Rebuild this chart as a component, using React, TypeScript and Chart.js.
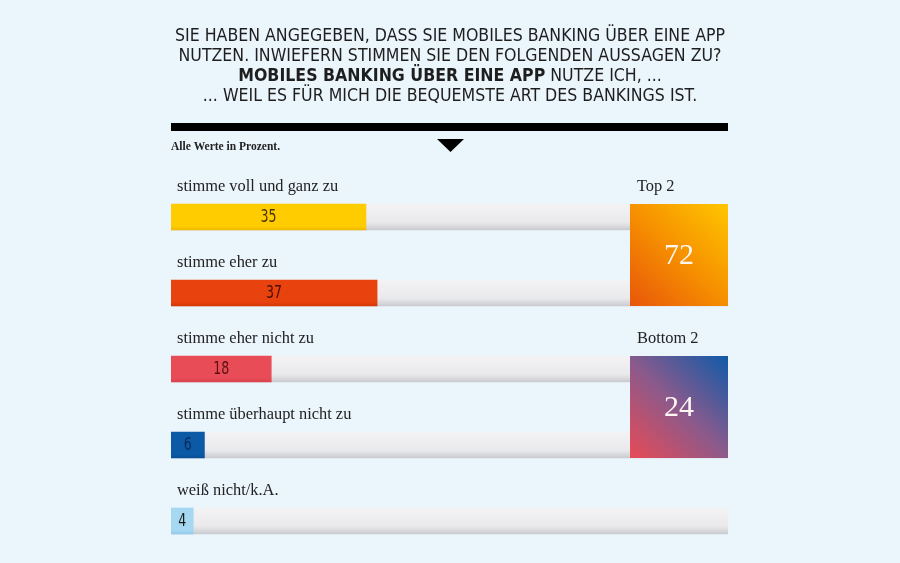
import React, { useEffect, useRef } from "react";
import { Chart, registerables } from "chart.js";
Chart.register(...registerables);

const categories = [
  "stimme voll und ganz zu",
  "stimme eher zu",
  "stimme eher nicht zu",
  "stimme überhaupt nicht zu",
  "weiß nicht/k.A.",
];
const values = [35, 37, 18, 6, 4];
const trackValues = [100, 100, 100, 100, 100];
const barColors = ["#ffcc00", "#e8420e", "#e84c56", "#0c5aa6", "#a6d8f2"];
const barColorsDark = ["#efb800", "#d43806", "#d8424c", "#0a4f94", "#94cceb"];
const valueTextColors = ["#4a3400", "#4a0e00", "#5a1010", "#0a2a55", "#1a1a1a"];
const groupLabels = ["Top 2", "Bottom 2"];
const groupMembers = [
  [0, 1],
  [2, 3],
];
const titleLines = [
  "SIE HABEN ANGEGEBEN, DASS SIE MOBILES BANKING ÜBER EINE APP",
  "NUTZEN. INWIEFERN STIMMEN SIE DEN FOLGENDEN AUSSAGEN ZU?",
  "",
  "... WEIL ES FÜR MICH DIE BEQUEMSTE ART DES BANKINGS IST.",
];
const titleBoldPart = "MOBILES BANKING ÜBER EINE APP";
const titleRegularPart = " NUTZE ICH, ...";
const noteText = "Alle Werte in Prozent.";

const TITLE_FONT = '"Liberation Sans Narrow", "DejaVu Sans Condensed", "Roboto", sans-serif';
const SERIF = '"Liberation Serif", "DejaVu Serif", serif';
const NUM_FONT = '"Liberation Sans Narrow", "DejaVu Sans Condensed", sans-serif';

const overlayPlugin = {
  id: "overlay",
  afterDatasetsDraw(chart: any) {
    const ctx = chart.ctx as CanvasRenderingContext2D;
    const area = chart.chartArea;
    const meta = chart.getDatasetMeta(0);
    const cx = 450;

    // Title
    ctx.save();
    ctx.fillStyle = "#1e1e1e";
    ctx.textBaseline = "middle";
    ctx.font = `17px ${TITLE_FONT}`;
    const targetW = 550;
    const w1 = ctx.measureText(titleLines[0]).width;
    const sx = targetW / w1;
    const lineYs = [36.5, 56.7, 77, 97];
    titleLines.forEach((t, i) => {
      if (i === 2) {
        ctx.font = `bold 17px ${TITLE_FONT}`;
        const wb = ctx.measureText(titleBoldPart).width;
        ctx.font = `17px ${TITLE_FONT}`;
        const wr = ctx.measureText(titleRegularPart).width;
        const total = (wb + wr) * sx;
        const x = cx - total / 2;
        ctx.save();
        ctx.translate(x, lineYs[i]);
        ctx.scale(sx, 1);
        ctx.textAlign = "left";
        ctx.font = `bold 17px ${TITLE_FONT}`;
        ctx.fillText(titleBoldPart, 0, 0);
        ctx.font = `17px ${TITLE_FONT}`;
        ctx.fillText(titleRegularPart, wb, 0);
        ctx.restore();
      } else {
        ctx.save();
        ctx.translate(cx, lineYs[i]);
        ctx.scale(sx, 1);
        ctx.textAlign = "center";
        ctx.fillText(t, 0, 0);
        ctx.restore();
      }
    });
    ctx.restore();

    // Black rule and triangle
    ctx.save();
    ctx.fillStyle = "#000";
    ctx.fillRect(area.left, 123, area.right - area.left, 8);
    ctx.beginPath();
    ctx.moveTo(437, 139);
    ctx.lineTo(464, 139);
    ctx.lineTo(450.5, 152);
    ctx.closePath();
    ctx.fill();
    ctx.font = `bold 11.5px ${SERIF}`;
    ctx.textAlign = "left";
    ctx.textBaseline = "middle";
    ctx.fillStyle = "#222";
    ctx.fillText(noteText, area.left, 147);
    ctx.restore();

    // Category labels and value labels
    ctx.save();
    meta.data.forEach((bar: any, i: number) => {
      const top = bar.y - bar.height / 2;
      ctx.font = `16.4px ${SERIF}`;
      ctx.fillStyle = "#222";
      ctx.textAlign = "left";
      ctx.textBaseline = "middle";
      ctx.fillText(categories[i], area.left + 6, top - 17);
      ctx.save();
      ctx.translate((bar.base + bar.x) / 2, bar.y + 1);
      ctx.scale(0.82, 1);
      ctx.font = `17px ${NUM_FONT}`;
      ctx.fillStyle = valueTextColors[i];
      ctx.textAlign = "center";
      ctx.fillText(String(values[i]), 0, 0);
      ctx.restore();
    });
    ctx.restore();

    // Group boxes
    const boxW = 98;
    groupMembers.forEach((members, g) => {
      const first = meta.data[members[0]];
      const last = meta.data[members[members.length - 1]];
      const top = first.y - first.height / 2;
      const bottom = last.y + last.height / 2;
      const right = area.right;
      const left = right - boxW;
      const grad = ctx.createLinearGradient(right, top, left, bottom);
      if (g === 0) {
        grad.addColorStop(0, "#ffc600");
        grad.addColorStop(0.5, "#f69000");
        grad.addColorStop(1, "#e8560a");
      } else {
        grad.addColorStop(0, "#0f5aa8");
        grad.addColorStop(0.5, "#8a5a8c");
        grad.addColorStop(1, "#e84a56");
      }
      ctx.save();
      ctx.fillStyle = grad;
      ctx.fillRect(left, top, boxW, bottom - top);
      ctx.font = `30px ${SERIF}`;
      ctx.fillStyle = "#fff6f4";
      ctx.textAlign = "center";
      ctx.textBaseline = "middle";
      const sum = members.reduce((s, m) => s + values[m], 0);
      ctx.fillText(String(sum), (left + right) / 2, (top + bottom) / 2 + 1);
      ctx.font = `16.4px ${SERIF}`;
      ctx.fillStyle = "#222";
      ctx.textAlign = "left";
      ctx.fillText(groupLabels[g], left + 7, top - 17);
      ctx.restore();
    });
  },
};

function barGradient(c: any, light: string, dark: string) {
  const chart = c.chart;
  if (!chart.chartArea || !chart.scales.y) return light;
  const y = chart.scales.y.getPixelForValue(c.dataIndex);
  const g = chart.ctx.createLinearGradient(0, y - 13, 0, y + 13);
  g.addColorStop(0, light);
  g.addColorStop(0.85, light);
  g.addColorStop(1, dark);
  return g;
}

export default function App() {
  const ref = useRef<HTMLCanvasElement>(null);
  useEffect(() => {
    const prevMargin = document.body.style.margin;
    document.body.style.margin = "0";
    const chart = new Chart(ref.current!, {
      type: "bar",
      data: {
        labels: categories,
        datasets: [
          {
            label: "Werte",
            data: values,
            order: 0,
            grouped: false,
            barThickness: 26,
            borderWidth: 0,
            backgroundColor: (c: any) =>
              barGradient(c, barColors[c.dataIndex], barColorsDark[c.dataIndex]),
          },
          {
            label: "Basis",
            data: trackValues,
            order: 1,
            grouped: false,
            barThickness: 26,
            borderWidth: 0,
            backgroundColor: (c: any) => {
              const chart = c.chart;
              if (!chart.chartArea || !chart.scales.y) return "#ececee";
              const y = chart.scales.y.getPixelForValue(c.dataIndex);
              const g = chart.ctx.createLinearGradient(0, y - 13, 0, y + 13);
              g.addColorStop(0, "#f3f3f4");
              g.addColorStop(0.7, "#eaeaec");
              g.addColorStop(1, "#c9cbd0");
              return g;
            },
          },
        ] as any,
      },
      options: {
        indexAxis: "y",
        responsive: false,
        animation: false,
        devicePixelRatio: 1,
        layout: { padding: { left: 171, right: 172, top: 179, bottom: 4 } },
        scales: {
          x: { display: false, min: 0, max: 100 },
          y: { display: false },
        },
        plugins: {
          legend: { display: false },
          tooltip: { enabled: false },
        },
      } as any,
      plugins: [overlayPlugin],
    });
    return () => {
      chart.destroy();
      document.body.style.margin = prevMargin;
    };
  }, []);
  return (
    <div style={{ width: 900, height: 563, background: "#ebf5fc" }}>
      <canvas ref={ref} width={900} height={563} />
    </div>
  );
}
